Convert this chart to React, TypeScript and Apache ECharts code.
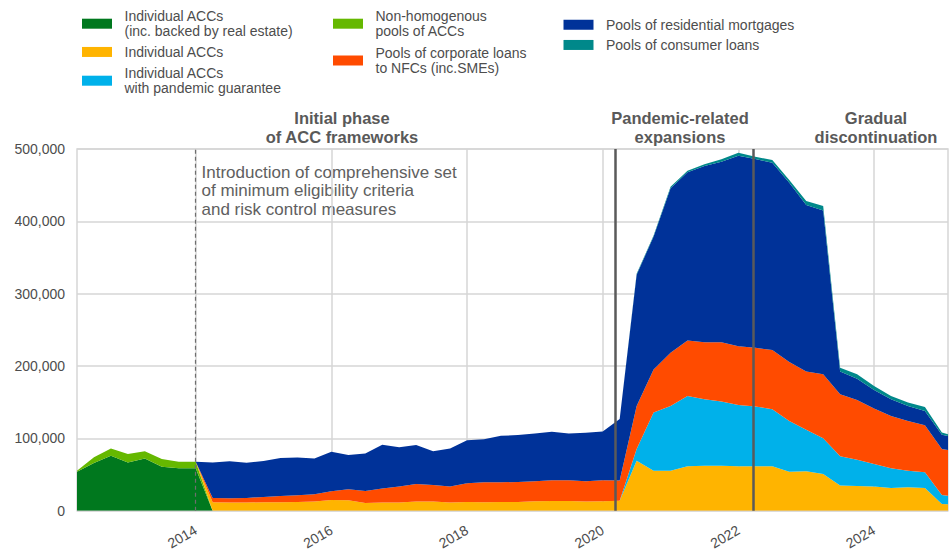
import React, { useEffect, useRef } from "react";
import * as echarts from "echarts";

// observation positions in decimal years (quarterly, plus the last partial observation)
const periods = [
  2012.25, 2012.5, 2012.75, 2013, 2013.25, 2013.5, 2013.75, 2014,
  2014.25, 2014.5, 2014.75, 2015, 2015.25, 2015.5, 2015.75, 2016,
  2016.25, 2016.5, 2016.75, 2017, 2017.25, 2017.5, 2017.75, 2018,
  2018.25, 2018.5, 2018.75, 2019, 2019.25, 2019.5, 2019.75, 2020,
  2020.25, 2020.5, 2020.75, 2021, 2021.25, 2021.5, 2021.75, 2022,
  2022.25, 2022.5, 2022.75, 2023, 2023.25, 2023.5, 2023.75, 2024,
  2024.25, 2024.5, 2024.75, 2025, 2025.09,
];

// values in thousands; multiplied by 1000 when plotted
const individualRealEstate = [
  54, 66, 76, 67, 72.5, 61, 59, 59,
  0, 0, 0, 0, 0, 0, 0, 0, 0, 0, 0, 0, 0, 0, 0, 0, 0, 0, 0, 0, 0, 0, 0, 0,
  0, 0, 0, 0, 0, 0, 0, 0, 0, 0, 0, 0, 0, 0, 0, 0, 0, 0, 0, 0, 0,
];
const nonHomogenousPools = [
  1.5, 8, 10, 11.5, 10, 10.5, 9, 9,
  0, 0, 0, 0, 0, 0, 0, 0, 0, 0, 0, 0, 0, 0, 0, 0, 0, 0, 0, 0, 0, 0, 0, 0,
  0, 0, 0, 0, 0, 0, 0, 0, 0, 0, 0, 0, 0, 0, 0, 0, 0, 0, 0, 0, 0,
];
const individualACCs = [
  0, 0, 0, 0, 0, 0, 0, 0,
  12, 11.5, 11.5, 12, 12, 12.4, 12.8, 15.1, 14.7, 11, 11.5, 11.7,
  12.8, 12.8, 11.4, 12.4, 12, 12.4, 12.4, 13.4, 13.8, 13.8, 12.8, 13.4,
  14,
  69.3, 55.5, 55.5, 61.5, 62.4, 62.4, 61.5, 61.5, 61.5, 54.1, 54.7, 51,
  34.9, 34.4, 33.5, 31.7, 32.6, 31.7, 9.6, 9,
];
const pandemicGuarantee = [
  0, 0, 0, 0, 0, 0, 0, 0,
  0, 0, 0, 0, 0, 0, 0, 0, 0, 0, 0, 0,
  0, 0, 0, 0, 0, 0, 0, 0, 0, 0, 0, 0,
  0,
  16.1, 80.4, 89.5, 97.3, 91.8, 88.6, 84.9, 82.7, 79, 70.2, 57.3, 49.5,
  40.4, 36.3, 31.2, 27.1, 22.9, 21.6, 12.4, 12,
];
const corporatePools = [
  0, 0, 0, 0, 0, 0, 0, 0,
  5.9, 5.9, 6.4, 7.3, 8.7, 9.2, 10.2, 12, 15.1, 16.5, 19.3, 22,
  24.4, 23, 22.1, 25.7, 27.5, 27.1, 27.5, 27.5, 28.5, 28.5, 28.1, 28.9,
  28,
  59.6, 59.6, 73.5, 76.7, 78.9, 82.1, 81.2, 81.2, 81.6, 81.3, 80.4, 88.1,
  85.7, 82.6, 76.7, 72.4, 68.8, 65.1, 63.4, 63,
];
const mortgagePools = [
  0, 0, 0, 0, 0, 0, 0, 0,
  49.1, 51, 48.6, 49.5, 52.2, 52.2, 49.5, 54.5, 47.3, 51.8, 60.4, 54.1,
  53.7, 46.4, 52.8, 59.3, 59.6, 64.2, 64.8, 66.1, 66.9, 64.7, 66.9, 67.4,
  85,
  181.3, 183.6, 227.2, 232.3, 243.3, 249.3, 263, 260.7, 258.9, 247.9, 230.3, 226.3,
  31.4, 29.4, 25.6, 23, 20.7, 19.7, 19.7, 19.5,
];
const consumerPools = [
  0, 0, 0, 0, 0, 0, 0, 0,
  0, 0, 0, 0, 0, 0, 0, 0, 0, 0, 0, 0,
  0, 0, 0, 0, 0, 0, 0, 0, 0, 0, 0, 0,
  0,
  1.2, 1.5, 2, 2.2, 2.4, 3.3, 4.2, 3.2, 3.7, 3.5, 5.5, 6.5,
  5.5, 5.9, 5.6, 4.6, 4.7, 5.5, 3.3, 2.5,
];

const yearTicks = [2014, 2016, 2018, 2020, 2022, 2024];
// 2014-01-01, 2020-03-12, 2022-03-24 as decimal years
const phaseLines = [2014, 2020.195, 2022.225];

const seriesDefs = [
  { name: "Individual ACCs\n(inc. backed by real estate)", data: individualRealEstate, color: "#00781e" },
  { name: "Non-homogenous\npools of ACCs", data: nonHomogenousPools, color: "#65b800" },
  { name: "Individual ACCs", data: individualACCs, color: "#ffb400" },
  { name: "Individual ACCs\nwith pandemic guarantee", data: pandemicGuarantee, color: "#00b1ea" },
  { name: "Pools of corporate loans\nto NFCs (inc.SMEs)", data: corporatePools, color: "#ff4b00" },
  { name: "Pools of residential mortgages", data: mortgagePools, color: "#003299" },
  { name: "Pools of consumer loans", data: consumerPools, color: "#00888a" },
];

const FONT = "'Liberation Sans', Arial, Helvetica, sans-serif";
const TEXT = "#4d4d4d";

const legendLayout = [
  { name: seriesDefs[0].name, left: 82, top: 8.2 },
  { name: seriesDefs[2].name, left: 82, top: 44.2 },
  { name: seriesDefs[3].name, left: 82, top: 65.2 },
  { name: seriesDefs[1].name, left: 333, top: 8.2 },
  { name: seriesDefs[4].name, left: 333, top: 45 },
  { name: seriesDefs[5].name, left: 563.5, top: 17 },
  { name: seriesDefs[6].name, left: 563.5, top: 37.2 },
];

export default function App() {
  const ref = useRef<HTMLDivElement>(null);

  useEffect(() => {
    if (!ref.current) return;
    const chart = echarts.init(ref.current, undefined, { renderer: "svg" });

    // data stored as [value, period] with encode so that the stack runs on the value (y) dimension
    const series: any[] = seriesDefs.map((s) => ({
      name: s.name,
      type: "line",
      stack: "total",
      encode: { x: 1, y: 0 },
      symbol: "none",
      showSymbol: false,
      silent: true,
      lineStyle: { width: 0 },
      itemStyle: { color: s.color },
      areaStyle: { color: s.color, opacity: 1 },
      data: periods.map((p, i) => [s.data[i] * 1000, p]),
      z: 2,
    }));

    series[series.length - 1].markLine = {
      silent: true,
      symbol: "none",
      label: { show: false },
      z: 10,
      data: phaseLines.map((v, i) => ({
        xAxis: v,
        lineStyle:
          i === 0
            ? { type: [4, 3], color: "#6e6e6e", width: 1.2 }
            : { type: "solid", color: "#5a5a5a", width: 2.5 },
      })),
    };

    const option: any = {
      animation: false,
      textStyle: { fontFamily: FONT },
      grid: {
        show: true,
        left: 77,
        right: 2,
        top: 149,
        bottom: 40,
        borderColor: "#d6d6d6",
        borderWidth: 1.5,
        containLabel: false,
      },
      legend: legendLayout.map((l) => ({
        data: [l.name],
        left: l.left,
        top: l.top,
        orient: "vertical",
        padding: 0,
        itemWidth: 30,
        itemHeight: 10,
        icon: "rect",
        selectedMode: false,
        textStyle: {
          fontFamily: FONT,
          fontSize: 14,
          lineHeight: 15.5,
          color: TEXT,
          padding: [0, 0, 0, 7.5],
        },
      })),
      xAxis: {
        type: "value",
        min: periods[0],
        max: periods[periods.length - 1],
        axisLine: { show: false },
        axisTick: { show: false, customValues: yearTicks },
        axisLabel: {
          customValues: yearTicks,
          rotate: 30,
          margin: 18,
          fontSize: 14,
          color: TEXT,
          fontFamily: FONT,
          formatter: (v: number) => String(Math.round(v)),
        },
        splitLine: { show: true, lineStyle: { color: "#d6d6d6", width: 1.5 } },
      },
      yAxis: {
        type: "value",
        min: 0,
        max: 500000,
        interval: 100000,
        axisLine: { show: false },
        axisTick: { show: false },
        axisLabel: {
          margin: 12,
          fontSize: 14,
          color: TEXT,
          fontFamily: FONT,
          formatter: (v: number) => v.toLocaleString("en-US"),
        },
        splitLine: { show: true, lineStyle: { color: "#d6d6d6", width: 1.5 } },
      },
      graphic: [
        {
          type: "text",
          x: 342,
          y: 127.7,
          style: {
            text: "Initial phase\nof ACC frameworks",
            fontFamily: FONT,
            fontSize: 16.5,
            fontWeight: "bold",
            lineHeight: 18.5,
            fill: "#595959",
            align: "center",
            verticalAlign: "middle",
          },
        },
        {
          type: "text",
          x: 680,
          y: 127.7,
          style: {
            text: "Pandemic-related\nexpansions",
            fontFamily: FONT,
            fontSize: 16.5,
            fontWeight: "bold",
            lineHeight: 18.5,
            fill: "#595959",
            align: "center",
            verticalAlign: "middle",
          },
        },
        {
          type: "text",
          x: 876,
          y: 127.7,
          style: {
            text: "Gradual\ndiscontinuation",
            fontFamily: FONT,
            fontSize: 16.5,
            fontWeight: "bold",
            lineHeight: 18.5,
            fill: "#595959",
            align: "center",
            verticalAlign: "middle",
          },
        },
        {
          type: "text",
          x: 201.5,
          y: 190.5,
          style: {
            text:
              "Introduction of comprehensive set\nof minimum eligibility criteria\nand risk control measures",
            fontFamily: FONT,
            fontSize: 17,
            lineHeight: 18.5,
            fill: "#606060",
            align: "left",
            verticalAlign: "middle",
          },
        },
      ],
      series,
    };

    chart.setOption(option);
    return () => chart.dispose();
  }, []);

  return (
    <div
      ref={ref}
      style={{ position: "fixed", left: 0, top: 0, width: 950, height: 552, background: "#fff" }}
    />
  );
}
